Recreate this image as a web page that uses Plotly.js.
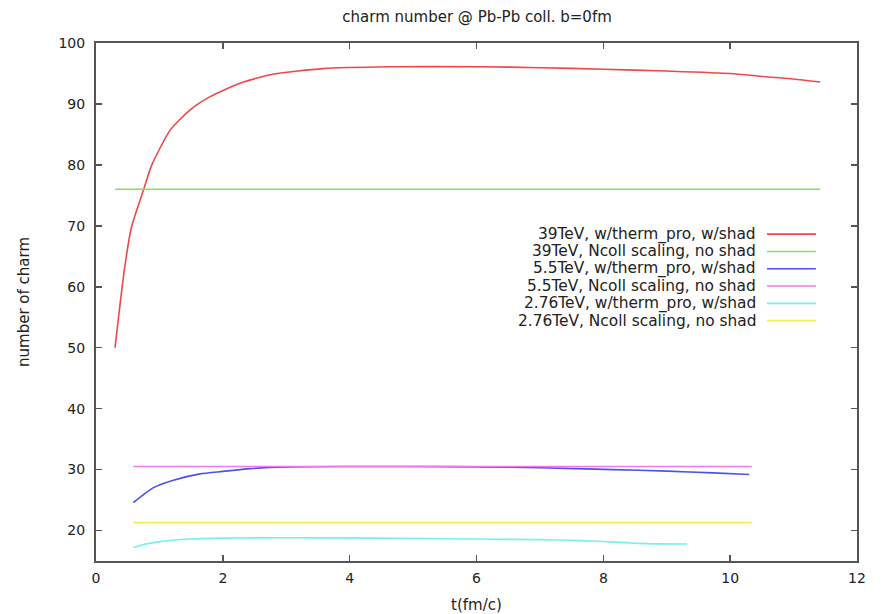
<!DOCTYPE html>
<html>
<head>
<meta charset="utf-8">
<script src="https://cdn.plot.ly/plotly-3.0.1.min.js"></script>
<style>html,body{margin:0;padding:0;background:#fff}</style>
</head>
<body>
<div id="chart" style="width:881px;height:614px"></div>
<script>
// Series names (legend order)
const seriesNames = [
  "39TeV, w/therm_pro, w/shad",
  "39TeV, Ncoll scaling, no shad",
  "5.5TeV, w/therm_pro, w/shad",
  "5.5TeV, Ncoll scaling, no shad",
  "2.76TeV, w/therm_pro, w/shad",
  "2.76TeV, Ncoll scaling, no shad"
];
const seriesColors = ["#ee4848", "#80e45c", "#4f4ff0", "#f07af0", "#78f0f0", "#f0f050"];

// 39TeV with thermal production
const t39 = [0.3, 0.45, 0.56, 0.75, 0.88, 1.17, 1.48, 1.8, 2.27, 2.8, 3.58, 4.64, 6.06, 7.0, 8.0, 9.0, 10.0, 10.52, 11.0, 11.42];
const n39 = [50.0, 63.0, 69.8, 75.9, 80.0, 85.7, 89.0, 91.2, 93.4, 94.9, 95.8, 96.1, 96.1, 95.95, 95.7, 95.4, 95.0, 94.5, 94.1, 93.6];
// 39TeV Ncoll scaling
const t39n = [0.3, 11.42];
const n39n = [76.0, 76.0];

// 5.5TeV with thermal production
const t55 = [0.59, 0.75, 0.9, 1.22, 1.64, 2.0, 2.43, 3.06, 4.0, 5.0, 6.0, 7.0, 8.15, 9.0, 9.73, 10.3];
const n55 = [24.6, 25.9, 27.0, 28.25, 29.3, 29.7, 30.16, 30.44, 30.5, 30.5, 30.45, 30.3, 30.0, 29.75, 29.46, 29.2];
// 5.5TeV Ncoll scaling
const t55n = [0.59, 10.34];
const n55n = [30.5, 30.5];

// 2.76TeV with thermal production
const t276 = [0.59, 0.75, 0.96, 1.2, 1.48, 2.0, 2.53, 3.5, 5.16, 6.06, 7.0, 7.63, 8.2, 8.68, 9.32];
const n276 = [17.2, 17.7, 18.1, 18.4, 18.6, 18.75, 18.8, 18.8, 18.7, 18.6, 18.5, 18.35, 18.1, 17.85, 17.8];
// 2.76TeV Ncoll scaling
const t276n = [0.59, 10.34];
const n276n = [21.3, 21.3];

const xTicks = [0, 2, 4, 6, 8, 10, 12];
const yTicks = [20, 30, 40, 50, 60, 70, 80, 90, 100];

const xs = [t39, t39n, t55, t55n, t276, t276n];
const ys = [n39, n39n, n55, n55n, n276, n276n];

const FONT = "DejaVu Sans, Verdana, sans-serif";

const traces = xs.map((x, i) => ({
  x: x, y: ys[i], type: "scatter", mode: "lines", name: seriesNames[i],
  line: {color: seriesColors[i], width: 1.6, shape: "spline", smoothing: 0.6},
  showlegend: false
}));

// custom gnuplot-style legend: right-aligned text, line sample to the right
const legTop = 0.631, legStep = 0.0334;
const annotations = seriesNames.map((n, i) => ({
  xref: "paper", yref: "paper", x: 0.8695, y: legTop - i * legStep,
  xanchor: "right", yanchor: "middle", showarrow: false, text: n,
  font: {family: FONT, size: 15.4, color: "#222"}
}));
const shapes = seriesNames.map((n, i) => ({
  type: "line", xref: "paper", yref: "paper",
  x0: 0.8817, x1: 0.946, y0: legTop - i * legStep, y1: legTop - i * legStep,
  line: {color: seriesColors[i], width: 1.6}
}));

const axisCommon = {
  showgrid: false, zeroline: false, showline: true, mirror: "ticks",
  linecolor: "#555", linewidth: 2, ticks: "inside", ticklen: 6, tickwidth: 1.5, tickcolor: "#555",
  tickfont: {family: FONT, size: 14, color: "#222"}
};

const layout = {
  width: 881, height: 614,
  margin: {l: 96, r: 24, t: 43, b: 53},
  paper_bgcolor: "#fff", plot_bgcolor: "#fff",
  title: {text: "charm number @ Pb-Pb coll. b=0fm", x: 0.5415, xanchor: "center", y: 0.972, yanchor: "middle",
          font: {family: FONT, size: 15, color: "#222"}},
  xaxis: Object.assign({}, axisCommon, {range: [0, 12], tickvals: xTicks, ticktext: xTicks.map(String),
          ticklabelstandoff: 3,
          title: {text: "t(fm/c)", standoff: 16, font: {family: FONT, size: 15, color: "#222"}}}),
  yaxis: Object.assign({}, axisCommon, {range: [15, 100], tickvals: yTicks, ticktext: yTicks.map(String),
          ticklabelstandoff: 6,
          title: {text: "number of charm", standoff: 25, font: {family: FONT, size: 15, color: "#222"}}}),
  annotations: annotations,
  shapes: shapes
};

Plotly.newPlot("chart", traces, layout, {displayModeBar: false, staticPlot: true});
</script>
</body>
</html>
